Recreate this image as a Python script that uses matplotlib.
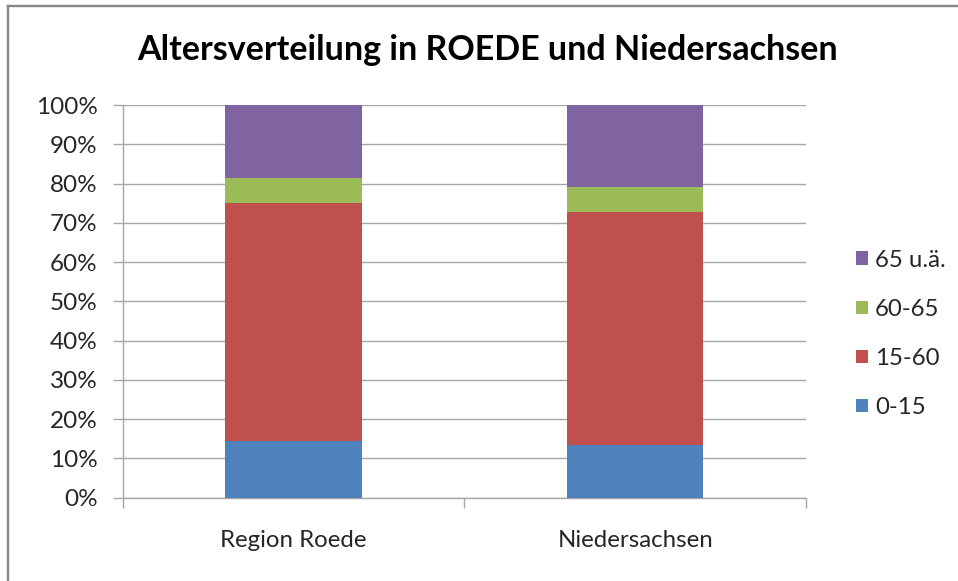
import matplotlib
matplotlib.use("Agg")
import matplotlib.pyplot as plt
from matplotlib.lines import Line2D
import numpy as np

# Data (percent of population)
regions = ["Region Roede", "Niedersachsen"]
age_groups = ["0-15", "15-60", "60-65", "65 u.ä."]
share_0_15 = [14.5, 13.5]
share_15_60 = [60.7, 59.4]
share_60_65 = [6.2, 6.3]
share_65_up = [18.6, 20.8]
series = [share_0_15, share_15_60, share_60_65, share_65_up]
colors = ["#4F81BD", "#C0504D", "#9BBB59", "#8064A2"]
yticks = [0, 10, 20, 30, 40, 50, 60, 70, 80, 90, 100]

plt.rcParams["font.family"] = ["Lato", "DejaVu Sans"]

W, H = 958, 581
fig = plt.figure(figsize=(W / 100, H / 100), dpi=100)
fig.patch.set_facecolor("white")

ax = fig.add_axes([122.5 / W, 1 - 497.7 / H, (806 - 122.5) / W, (497.7 - 105.2) / H])

x = np.arange(len(regions))
bottom = np.zeros(len(regions))
handles = []
for vals, col, name in zip(series, colors, age_groups):
    b = ax.bar(x, vals, width=0.4, bottom=bottom, color=col, label=name,
               zorder=3, linewidth=0)
    handles.append(b)
    bottom += np.array(vals)

ax.set_xlim(-0.5, len(regions) - 0.5)
ax.set_ylim(0, 100)
ax.set_yticks(yticks)
ax.set_yticklabels([f"{v}%" for v in yticks])
ax.yaxis.grid(True, color="#A6A6A6", linewidth=1.0, zorder=0)
ax.set_axisbelow(True)

for side in ["top", "right"]:
    ax.spines[side].set_visible(False)
for side in ["left", "bottom"]:
    ax.spines[side].set_color("#A6A6A6")
    ax.spines[side].set_linewidth(1.0)

ax.tick_params(axis="y", direction="out", length=7, width=1, color="#A6A6A6",
               pad=11, labelsize=17.5, labelcolor="#262626")
ax.set_xticks(x)
ax.set_xticklabels(regions)
ax.tick_params(axis="x", which="major", length=0, pad=23, labelsize=17.3,
               labelcolor="#262626")
ax.set_xticks([-0.5, 0.5, 1.5], minor=True)
ax.tick_params(axis="x", which="minor", direction="out", length=7, width=1,
               color="#A6A6A6")

fig.text(487 / W, 1 - 50 / H, "Altersverteilung in ROEDE und Niedersachsen",
         ha="center", va="center", fontsize=24.5, fontweight="bold", color="black")

leg = fig.legend(handles[::-1], age_groups[::-1], loc="center left",
                 bbox_to_anchor=(846 / W, 1 - 334 / H), frameon=False,
                 fontsize=17.3, handlelength=0.5, handleheight=0.5,
                 handletextpad=0.3, labelspacing=1.17, borderaxespad=0)
for t in leg.get_texts():
    t.set_color("#262626")

# chart frame
fig.add_artist(Line2D([8 / W, 1.0], [1 - 6 / H, 1 - 6 / H], color="#878787",
                      linewidth=1.7, transform=fig.transFigure))
fig.add_artist(Line2D([8 / W, 8 / W], [0.0, 1 - 6 / H], color="#878787",
                      linewidth=1.7, transform=fig.transFigure))

fig.savefig("out.png", dpi=100)
